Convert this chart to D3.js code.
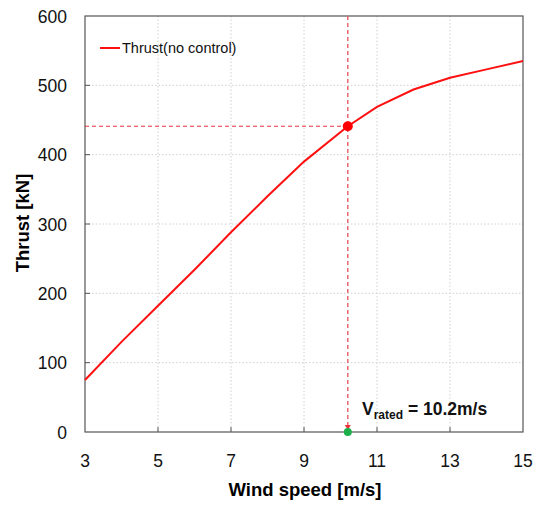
<!DOCTYPE html>
<head>
  <meta charset="utf-8">
  <script src="https://cdn.jsdelivr.net/npm/d3@7"></script>
  <style>
    body { margin: 0; background: #fff; }
    text { font-family: Arial, "Liberation Sans", sans-serif; }
  </style>
</head>
<body>
<svg width="543" height="505"></svg>
<script>
// data
var windSpeed = [3, 4, 5, 6, 7, 8, 9, 10.2, 11, 12, 13, 14, 15];
var thrust    = [75, 130, 182, 234, 288, 340, 390, 441, 469, 494, 511, 523, 535];
var xTicks = [3, 5, 7, 9, 11, 13, 15];
var yTicks = [0, 100, 200, 300, 400, 500, 600];
var ratedSpeed = 10.2, ratedThrust = 441;

var svg = d3.select("svg");
var pLeft = 85, pRight = 523, pTop = 16, pBottom = 432;

var x = d3.scaleLinear().domain([3, 15]).range([pLeft, pRight]);
var y = d3.scaleLinear().domain([0, 600]).range([pBottom, pTop]);

// grid
svg.selectAll(".gx").data(xTicks.slice(1, -1)).enter().append("line")
  .attr("x1", d => x(d)).attr("x2", d => x(d)).attr("y1", pTop).attr("y2", pBottom)
  .attr("stroke", "#d0d0d0").attr("stroke-dasharray", "1.5,2");
svg.selectAll(".gy").data(yTicks.slice(1, -1)).enter().append("line")
  .attr("x1", pLeft).attr("x2", pRight).attr("y1", d => y(d)).attr("y2", d => y(d))
  .attr("stroke", "#d0d0d0").attr("stroke-dasharray", "1.5,2");

// frame
svg.append("rect").attr("x", pLeft).attr("y", pTop)
  .attr("width", pRight - pLeft).attr("height", pBottom - pTop)
  .attr("fill", "none").attr("stroke", "#555").attr("stroke-width", 1.2);

// inward ticks
svg.selectAll(".tx").data(xTicks.slice(1, -1)).enter().append("line")
  .attr("x1", d => x(d)).attr("x2", d => x(d)).attr("y1", pBottom).attr("y2", pBottom - 5)
  .attr("stroke", "#555");
svg.selectAll(".ty").data(yTicks.slice(1, -1)).enter().append("line")
  .attr("x1", pLeft).attr("x2", pLeft + 5).attr("y1", d => y(d)).attr("y2", d => y(d))
  .attr("stroke", "#555");

// tick labels
svg.selectAll(".lx").data(xTicks).enter().append("text")
  .attr("x", d => x(d)).attr("y", pBottom + 35).attr("text-anchor", "middle")
  .attr("font-size", 17.5).attr("fill", "#111").text(d => d);
svg.selectAll(".ly").data(yTicks).enter().append("text")
  .attr("x", pLeft - 18).attr("y", d => y(d) + 6.5).attr("text-anchor", "end")
  .attr("font-size", 17.5).attr("fill", "#111").text(d => d);

// axis titles
svg.append("text").attr("x", (pLeft + pRight) / 2 + 1).attr("y", 496)
  .attr("text-anchor", "middle").attr("font-size", 18.5).attr("font-weight", "bold")
  .text("Wind speed [m/s]");
svg.append("text").attr("transform", "translate(29,223) rotate(-90)")
  .attr("text-anchor", "middle").attr("font-size", 18.5).attr("font-weight", "bold")
  .text("Thrust [kN]");

// rated speed guides
svg.append("line").attr("x1", pLeft).attr("x2", x(ratedSpeed))
  .attr("y1", y(ratedThrust)).attr("y2", y(ratedThrust))
  .attr("stroke", "#e8333a").attr("stroke-dasharray", "4,3");
svg.append("line").attr("x1", x(ratedSpeed)).attr("x2", x(ratedSpeed))
  .attr("y1", pTop).attr("y2", pBottom - 6)
  .attr("stroke", "#e8505a").attr("stroke-width", 1.3).attr("stroke-dasharray", "4,3");
svg.append("path")
  .attr("d", "M" + (x(ratedSpeed) - 3) + "," + (pBottom - 7) + "L" + (x(ratedSpeed) + 3) + "," + (pBottom - 7) +
             "L" + x(ratedSpeed) + "," + (pBottom - 2) + "Z")
  .attr("fill", "#e8333a");

// thrust curve
var line = d3.line().x((d, i) => x(windSpeed[i])).y(d => y(d));
svg.append("path").datum(thrust).attr("d", line)
  .attr("fill", "none").attr("stroke", "#ff1010").attr("stroke-width", 2);

svg.append("circle").attr("cx", x(ratedSpeed)).attr("cy", y(ratedThrust)).attr("r", 5)
  .attr("fill", "#ff0000");
svg.append("circle").attr("cx", x(ratedSpeed)).attr("cy", y(0)).attr("r", 4)
  .attr("fill", "#1db04a");

// annotation
var ann = svg.append("text").attr("x", 362).attr("y", 415)
  .attr("font-size", 17.5).attr("font-weight", "bold").attr("fill", "#111");
ann.append("tspan").text("V");
ann.append("tspan").attr("font-size", 12).attr("dy", 4).text("rated");
ann.append("tspan").attr("dy", -4).text(" = 10.2m/s");

// legend
svg.append("line").attr("x1", 100).attr("x2", 120).attr("y1", 48).attr("y2", 48)
  .attr("stroke", "#ff1010").attr("stroke-width", 2);
svg.append("text").attr("x", 122).attr("y", 53).attr("font-size", 14.5)
  .attr("fill", "#111").text("Thrust(no control)");
</script>
</body>
</html>
